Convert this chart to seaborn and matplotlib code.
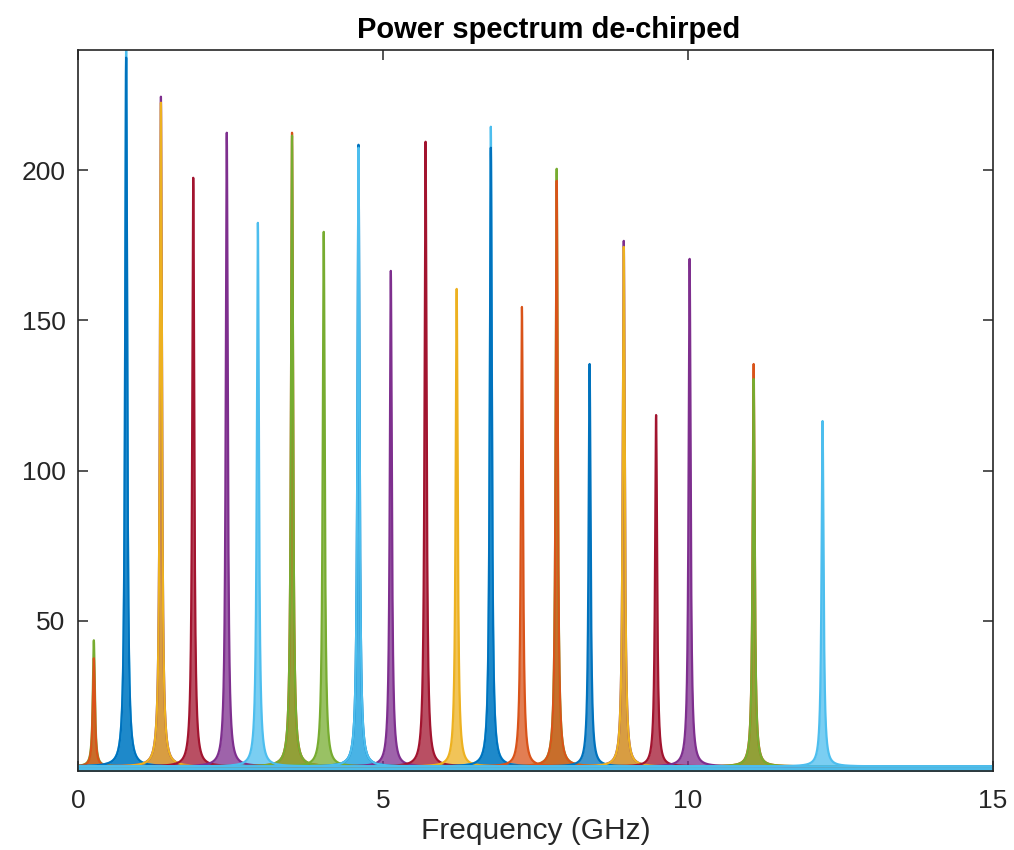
import numpy as np
import matplotlib
matplotlib.use("Agg")
import matplotlib.pyplot as plt
import seaborn as sns

# Line colours (MATLAB default order)
BLUE = "#0072BD"
ORANGE = "#D95319"
YELLOW = "#EDB120"
PURPLE = "#7E2F8E"
GREEN = "#77AC30"
LIGHTBLUE = "#4DBEEE"
RED = "#A2142F"

# Secondary traces whose tips poke out just above a neighbouring line
tip_freq = [0.26, 1.36, 3.51, 4.60, 7.85, 8.95, 11.08, 0.79, 6.77]
tip_power = [42, 223, 211, 207, 199, 175, 134, 240, 213]
tip_color = [GREEN, PURPLE, ORANGE, BLUE, GREEN, PURPLE, ORANGE, LIGHTBLUE, LIGHTBLUE]

# Main de-chirped lines: centre frequency (GHz), peak power, colour
peak_freq = [0.26, 0.79, 1.36, 1.89, 2.44, 3.51, 4.03, 5.13, 5.70, 6.21,
             6.77, 7.28, 7.85, 8.39, 8.95, 9.48, 10.03, 11.08, 2.95, 4.60, 12.21]
peak_power = [36, 236, 221, 196, 211, 210, 178, 165, 208, 159,
              206, 153, 195, 134, 173, 117, 169, 129, 181, 206, 115]
peak_color = [ORANGE, BLUE, YELLOW, RED, PURPLE, GREEN, GREEN, PURPLE, RED, YELLOW,
              BLUE, ORANGE, ORANGE, BLUE, YELLOW, RED, PURPLE, GREEN, LIGHTBLUE, LIGHTBLUE, LIGHTBLUE]

noise_floor = 1.5      # residual power level away from the lines
linewidth_ghz = 0.02   # Lorentzian half width of every line

x_ticks = [0, 5, 10, 15]
y_ticks = [50, 100, 150, 200]

freq = np.linspace(0, 15, 15001)

sns.set_theme(style="white")
plt.rcParams["font.family"] = ["Liberation Sans", "DejaVu Sans"]

fig = plt.figure(figsize=(10.14, 8.5), dpi=100)
ax = fig.add_axes([0.0769, 0.093, 0.9021, 0.848])


def draw_line(f0, p0, c):
    power = noise_floor + p0 / (1.0 + ((freq - f0) / linewidth_ghz) ** 2)
    ax.fill_between(freq, 0, power, color=c, alpha=0.75, linewidth=0)
    sns.lineplot(x=freq, y=power, color=c, linewidth=1.6, ax=ax,
                 estimator=None, sort=False)


for f0, p0, c in zip(tip_freq, tip_power, tip_color):
    draw_line(f0, p0, c)
for f0, p0, c in zip(peak_freq, peak_power, peak_color):
    draw_line(f0, p0, c)

ax.set_xlim(0, 15)
ax.set_ylim(0, 240)
ax.set_xticks(x_ticks)
ax.set_yticks(y_ticks)
ax.tick_params(direction="in", length=7, width=1.1, colors="#262626",
               labelsize=19, top=True, right=True, left=True, bottom=True)
ax.tick_params(axis="x", pad=13)
ax.tick_params(axis="y", pad=9)
for s in ax.spines.values():
    s.set_visible(True)
    s.set_color("#262626")
    s.set_linewidth(1.2)

ax.set_xlabel("Frequency (GHz)", fontsize=21.5, color="#262626", labelpad=3)
ax.set_ylabel("")
ax.set_title("Power spectrum de-chirped", fontsize=21, fontweight="bold",
             color="black", pad=9, x=0.514)

fig.savefig("out.png", dpi=100, facecolor="white")
